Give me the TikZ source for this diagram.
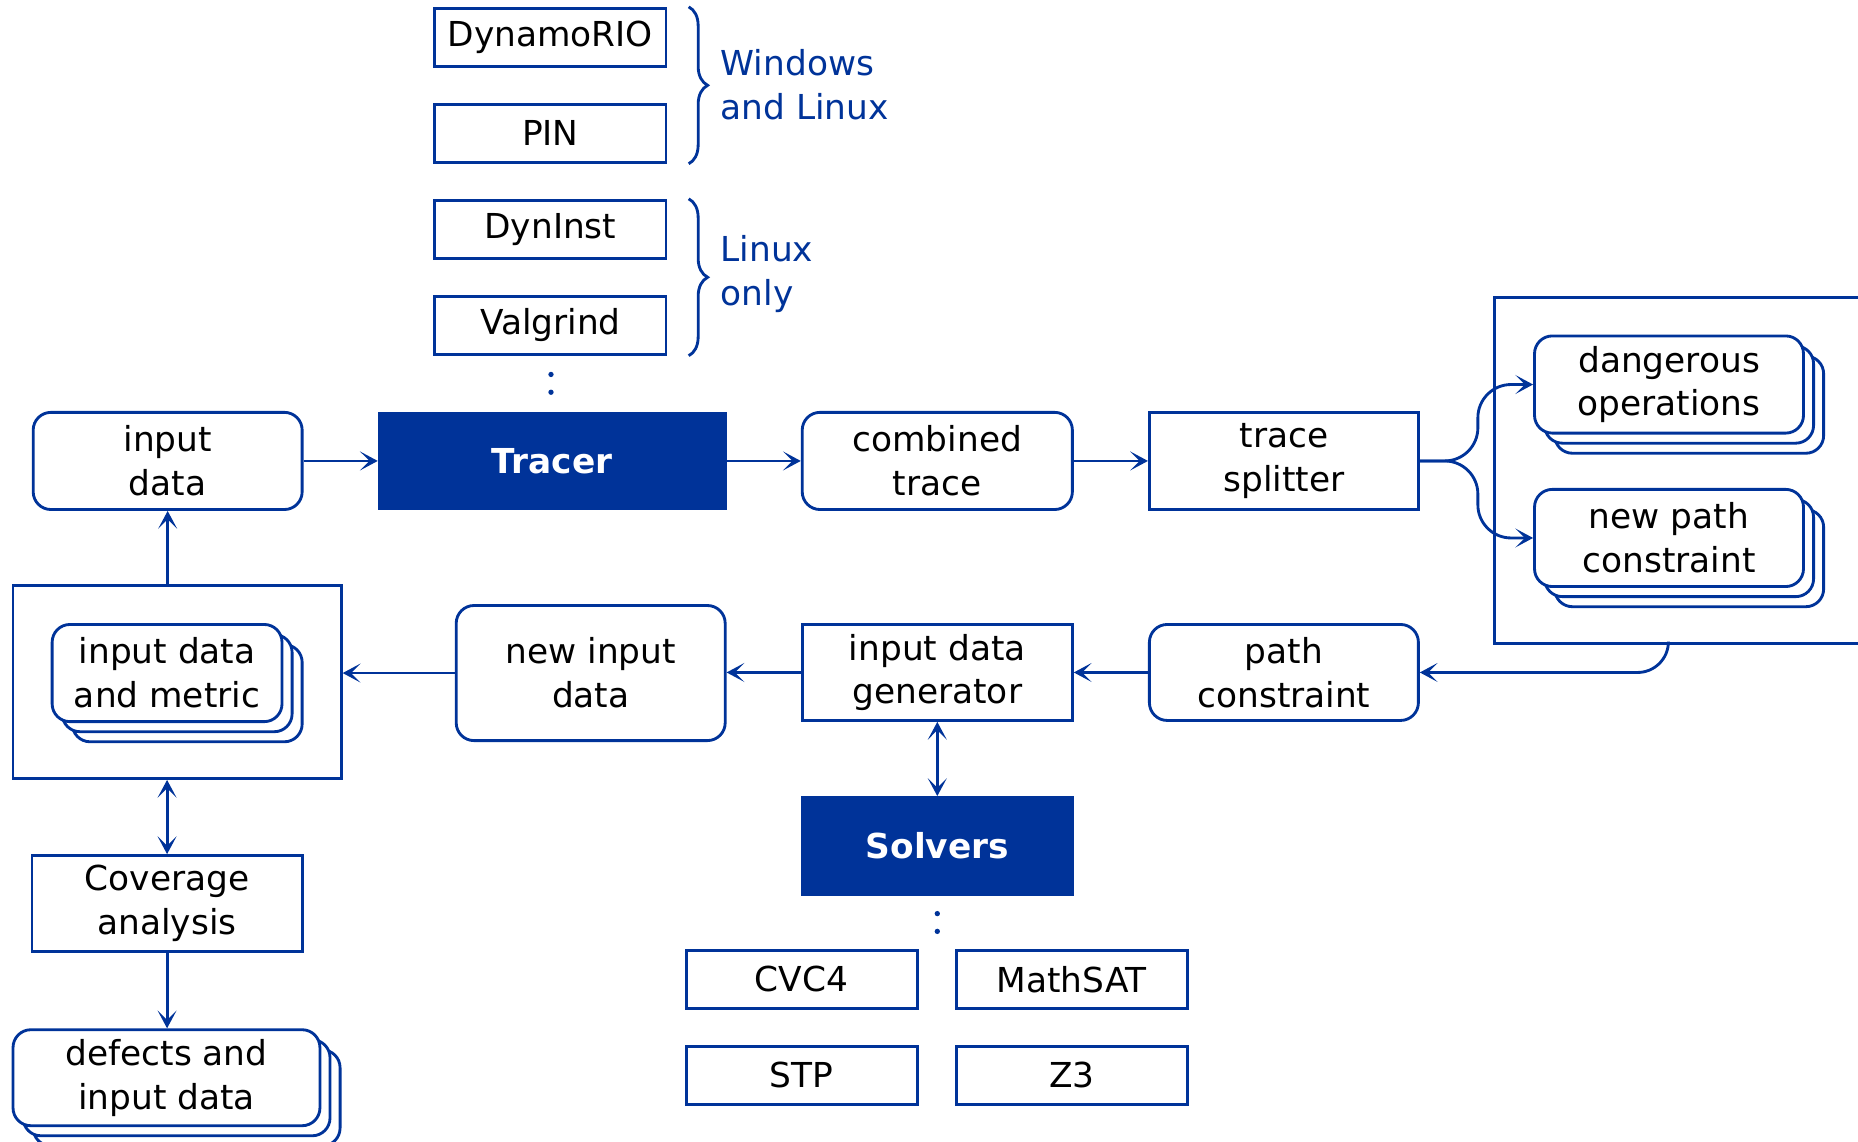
\documentclass[tikz,border=0pt]{standalone}
\usepackage{fontspec}
\setmainfont{DejaVu Sans}
\usetikzlibrary{arrows.meta,decorations.pathreplacing,calc}
\definecolor{myblue}{HTML}{003399}
\begin{document}
\begin{tikzpicture}[x=1pt,y=-1pt,
  base/.style={draw=myblue,line width=2.4pt,align=center,inner sep=0pt,text=black,
    font=\fontsize{29}{37}\selectfont,fill=white},
  rbox/.style={base,rounded corners=15pt},
  sbox/.style={base},
  fbox/.style={base,fill=myblue,text=white,font=\fontsize{29}{37}\selectfont\bfseries},
  tool/.style={sbox,minimum width=195pt,minimum height=49pt},
  sz/.style 2 args={minimum width=#1pt,minimum height=#2pt},
  arr/.style={draw=myblue,line width=2.4pt,-{Stealth[length=15pt,width=16pt,inset=8pt]}},
  darr/.style={draw=myblue,line width=2.4pt,{Stealth[length=15pt,width=16pt,inset=8pt]}-{Stealth[length=15pt,width=16pt,inset=8pt]}},
  bracestyle/.style={draw=myblue,line width=2.4pt,decorate,decoration={brace,amplitude=16pt}},
  lbl/.style={text=myblue,align=left,anchor=west,inner sep=0pt,font=\fontsize{29}{37}\selectfont},
  dot/.style={circle,fill=myblue,inner sep=0pt,minimum size=4.5pt}
]
\useasboundingbox (0,0) rectangle (1568,963);

% tools for tracer
\node[tool] (dyn) at (464.5,31.5) {DynamoRIO};
\node[tool] (pin) at (464.5,112.5) {PIN};
\node[tool] (dyni) at (464.5,193.5) {DynInst};
\node[tool] (valg) at (464.5,274.5) {Valgrind};
\draw[bracestyle] ([xshift=18pt]dyn.north east) -- ([xshift=18pt]pin.south east);
\draw[bracestyle] ([xshift=18pt]dyni.north east) -- ([xshift=18pt]valg.south east);
\node[lbl] (wl) at (608,71.5) {Windows\\and Linux};
\node[lbl] (lo) at (608,231.5) {Linux\\only};
\node[dot] (d1) at (465,316) {};
\node[dot] (d2) at (465,331) {};

% main row
\node[rbox,sz={227}{82}] (indata) at (141.5,389) {input\\data};
\node[fbox,sz={292}{80}] (tracer) at (466,389) {Tracer};
\node[rbox,sz={228}{82}] (comb) at (791,389) {combined\\trace};
\node[sbox,sz={227}{82}] (split) at (1083.5,389) {trace\\splitter};

% right frame
\draw[draw=myblue,line width=2.4pt] (1572,251) -- (1261,251) -- (1261,543) -- (1572,543);
\coordinate (rb) at (1408,543);

\node[rbox,sz={227}{82}] (dang3) at (1425.5,341.5) {};
\node[rbox,sz={227}{82}] (dang2) at (1417,333) {};
\node[rbox,sz={227}{82}] (dang) at (1408.5,324.5) {dangerous\\operations};
\node[rbox,sz={227}{82}] (npc3) at (1425.5,471) {};
\node[rbox,sz={227}{82}] (npc2) at (1417,462.5) {};
\node[rbox,sz={227}{82}] (npc) at (1408.5,454) {new path\\constraint};

\draw[arr] (indata.east) -- (tracer.west);
\draw[arr] (tracer.east) -- (comb.west);
\draw[arr] (comb.east) -- (split.west);
\draw[arr,rounded corners=28pt] (split.east) -- ++(49,0) |- (dang.west);
\draw[arr,rounded corners=28pt] (split.east) -- ++(49,0) |- (npc.west);

% bottom row
\node[sbox,sz={277}{163}] (bigbox) at (149.5,575.5) {};
\node[rbox,sz={194}{82}] (idm3) at (158,585) {};
\node[rbox,sz={194}{82}] (idm2) at (149.5,576.5) {};
\node[rbox,sz={194}{82}] (idm) at (141,568) {input data\\and metric};
\node[rbox,sz={227}{114}] (nid) at (498.5,568) {new input\\data};
\node[sbox,sz={228}{81}] (gen) at (791,567.5) {input data\\generator};
\node[rbox,sz={227}{81}] (pc) at (1083.5,567.5) {path\\constraint};

\draw[arr] (pc.west) -- (gen.east);
\draw[arr] (gen.west) -- (gen.west -| nid.east);
\draw[arr] (nid.west) -- (nid.west -| bigbox.east);
\draw[arr] (indata.south |- bigbox.north) -- (indata.south);
\draw[arr,rounded corners=26pt] (rb) |- (pc.east);

% solvers
\node[fbox,sz={228}{82}] (solv) at (791,714) {Solvers};
\draw[darr] (gen.south) -- (solv.north);
\node[dot] (d3) at (791,771) {};
\node[dot] (d4) at (791,786) {};
\node[tool] (cvc) at (676.5,826.5) {CVC4};
\node[tool] (msat) at (904.5,826.5) {MathSAT};
\node[tool] (stp) at (676.5,907.5) {STP};
\node[tool] (z3) at (904.5,907.5) {Z3};

% coverage
\node[sbox,sz={228}{81}] (cov) at (141,762.5) {Coverage\\analysis};
\draw[darr] (cov.north |- bigbox.south) -- (cov.north);
\node[rbox,sz={259}{81}] (def3) at (157.5,926.5) {};
\node[rbox,sz={259}{81}] (def2) at (149,918) {};
\node[rbox,sz={259}{81}] (def) at (140.5,909.5) {defects and\\input data};
\draw[arr] (cov.south) -- (cov.south |- def.north);
\end{tikzpicture}
\end{document}
